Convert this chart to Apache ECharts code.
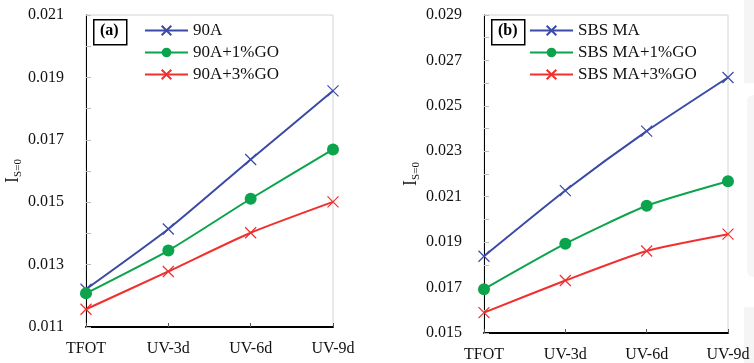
<!DOCTYPE html>
<html>
<head>
<meta charset="utf-8">
<script src="https://cdn.jsdelivr.net/npm/echarts@6/dist/echarts.min.js"></script>
<style>
  html, body { margin: 0; padding: 0; background: #fff; }
  #chart { width: 754px; height: 363px; }
</style>
</head>
<body>
<div id="chart"></div>
<script>
// Exposure stages on the x axis (shared by both panels)
const stages = ['TFOT', 'UV-3d', 'UV-6d', 'UV-9d'];

// Panel (a): 90A binder series
const namesA = ['90A', '90A+1%GO', '90A+3%GO'];
const a90A = [0.01221, 0.01414, 0.01637, 0.01857];
const a90A1GO = [0.01208, 0.01345, 0.01511, 0.01669];
const a90A3GO = [0.01157, 0.01278, 0.01402, 0.01501];

// Panel (b): SBS MA binder series
const namesB = ['SBS MA', 'SBS MA+1%GO', 'SBS MA+3%GO'];
const bSBS = [0.01838, 0.02127, 0.02389, 0.02625];
const bSBS1GO = [0.01693, 0.01893, 0.02060, 0.02168];
const bSBS3GO = [0.01590, 0.01731, 0.01861, 0.01935];

// Axis ranges (ticks every 0.001, labels every 0.002)
const rangeA = [0.011, 0.021];
const rangeB = [0.015, 0.029];
const tickStep = 0.001;

const FONT = "'Liberation Serif', 'Times New Roman', serif";
const BLUE = '#3a4aa6';
const GREEN = '#0ba44c';
const RED = '#f0302e';
const CROSS = 'path://M0,0L10,10M10,0L0,10';

function yAxis(idx, range) {
  return {
    type: 'value', gridIndex: idx, min: range[0], max: range[1], interval: tickStep,
    name: '{i|I}{s|S=0}', nameLocation: 'middle', nameGap: 62,
    nameTextStyle: {
      rich: {
        i: { fontFamily: FONT, fontSize: 18, lineHeight: 22, color: '#111' },
        s: { fontFamily: FONT, fontSize: 11, lineHeight: 11, verticalAlign: 'bottom', color: '#111' }
      }
    },
    axisLine: { show: true, lineStyle: { color: '#000', width: 1 } },
    axisTick: { show: true, inside: true, length: 5, lineStyle: { color: '#bbb', width: 1 } },
    splitLine: { show: false },
    axisLabel: {
      margin: 22, fontFamily: FONT, fontSize: 16, color: '#111',
      formatter: function (v) {
        const k = Math.round(v * 1000);
        return k % 2 === 1 ? (k / 1000).toFixed(3) : '';
      }
    }
  };
}

function xAxis(idx) {
  return {
    type: 'category', gridIndex: idx, data: stages, boundaryGap: false,
    axisLine: { show: true, lineStyle: { color: '#000', width: 2 } },
    axisTick: { show: true, inside: true, length: 4, lineStyle: { color: '#555', width: 1 } },
    splitLine: { show: false },
    axisLabel: { margin: 14, fontFamily: FONT, fontSize: 16, color: '#111' }
  };
}

function series(name, data, idx, color, symbol) {
  const isCross = symbol === CROSS;
  return {
    name: name, type: 'line', data: data, xAxisIndex: idx, yAxisIndex: idx,
    smooth: 0.2, symbol: symbol, symbolSize: isCross ? 11 : 12, showSymbol: true,
    lineStyle: { color: color, width: 2 },
    itemStyle: isCross
      ? { color: color, borderColor: color, borderWidth: 1.2 }
      : { color: color, borderColor: color, borderWidth: 0 },
    z: 3
  };
}

function legend(names, left) {
  return {
    data: names, orient: 'vertical', left: left, top: 22, padding: 0,
    itemWidth: 43, itemHeight: 12, itemGap: 5,
    textStyle: { fontFamily: FONT, fontSize: 17, color: '#111' }
  };
}

function panelTag(text, x, y) {
  return [
    { type: 'rect', left: x, top: y, shape: { width: 33, height: 25 },
      style: { fill: '#fff', stroke: '#000', lineWidth: 1.5 }, z: 10 },
    { type: 'text', left: x + 7, top: y + 4,
      style: { text: text, font: 'bold 16px ' + FONT, fill: '#000' }, z: 11 }
  ];
}

const chart = echarts.init(document.getElementById('chart'), null, { renderer: 'canvas' });
chart.setOption({
  animation: false,
  backgroundColor: '#fff',
  grid: [
    { left: 86, top: 15, width: 247, height: 312, show: true, borderColor: '#d4d4d4', borderWidth: 1 },
    { left: 484, top: 15, width: 244, height: 319, show: true, borderColor: '#d4d4d4', borderWidth: 1 }
  ],
  xAxis: [xAxis(0), xAxis(1)],
  yAxis: [yAxis(0, rangeA), yAxis(1, rangeB)],
  legend: [legend(namesA, 144), legend(namesB, 529)],
  series: [
    series(namesA[0], a90A, 0, BLUE, CROSS),
    series(namesA[1], a90A1GO, 0, GREEN, 'circle'),
    series(namesA[2], a90A3GO, 0, RED, CROSS),
    series(namesB[0], bSBS, 1, BLUE, CROSS),
    series(namesB[1], bSBS1GO, 1, GREEN, 'circle'),
    series(namesB[2], bSBS3GO, 1, RED, CROSS)
  ],
  graphic: [].concat(
    panelTag('(a)', 93, 19),
    panelTag('(b)', 491, 19),
    [
      { type: 'rect', left: 744, top: 0, shape: { width: 10, height: 83 }, style: { fill: '#f5f5f5' }, z: 0 },
      { type: 'rect', left: 747, top: 95, shape: { width: 7, height: 182, r: [6, 0, 0, 6] }, style: { fill: '#f6f6f6' }, z: 0 },
      { type: 'rect', left: 744, top: 307, shape: { width: 10, height: 56 }, style: { fill: '#f5f5f5' }, z: 0 }
    ]
  )
});
</script>
</body>
</html>
